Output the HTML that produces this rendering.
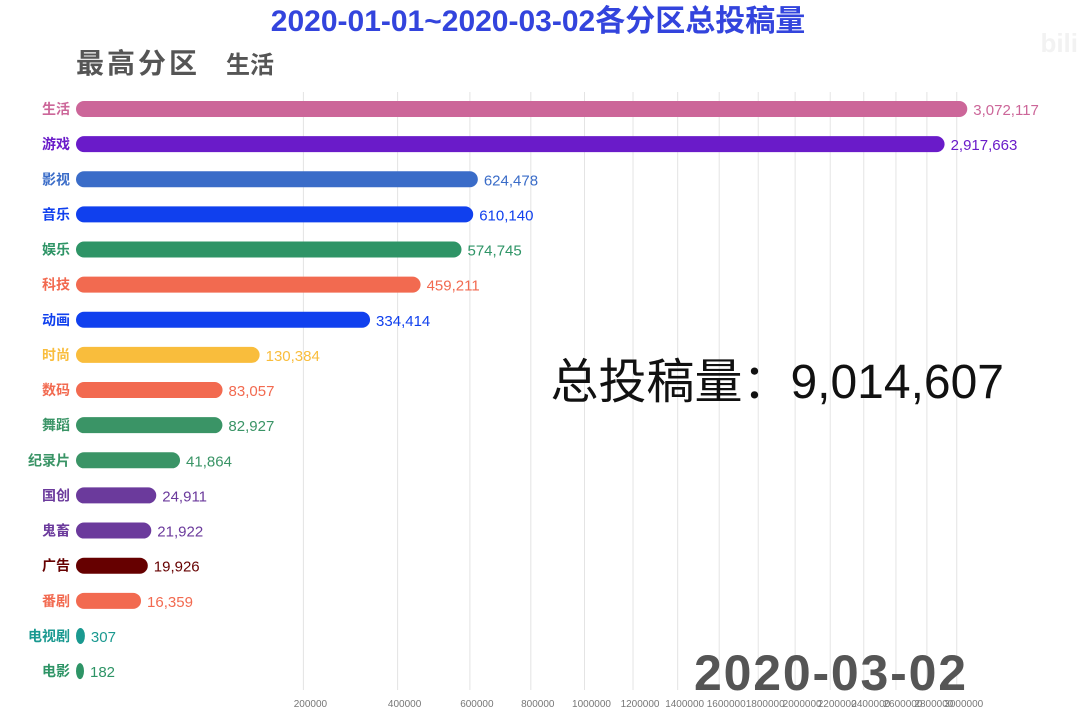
<!DOCTYPE html>
<html><head><meta charset="utf-8">
<style>
body{margin:0;width:1080px;height:720px;background:#fff;overflow:hidden;font-family:"Liberation Sans","Noto Sans CJK SC",sans-serif;}
svg text{font-family:"Liberation Sans","Noto Sans CJK SC",sans-serif;}
</style></head>
<body>
<svg id="chart" width="1080" height="720">
<text x="538" y="31" text-anchor="middle" font-size="30" font-weight="bold" fill="#3344dd">2020-01-01~2020-03-02各分区总投稿量</text>
<text x="76" y="73" font-size="28" font-weight="bold" fill="#555" letter-spacing="3">最高分区</text>
<text x="226" y="73" font-size="24" font-weight="bold" fill="#555">生活</text>
<text x="1078" y="52" text-anchor="end" font-size="26" font-weight="bold" fill="#f2f2f2">bili</text>
<g id="grid"></g>
<g id="bars"></g>
<text x="1004" y="398" text-anchor="end" font-size="48" fill="#111">总投稿量：9,014,607</text>
<text x="966" y="690" text-anchor="end" font-size="50" font-weight="bold" fill="#555" textLength="272">2020-03-02</text>
</svg>
<script>
const categories=["生活","游戏","影视","音乐","娱乐","科技","动画","时尚","数码","舞蹈","纪录片","国创","鬼畜","广告","番剧","电视剧","电影"];
const values=[3072117,2917663,624478,610140,574745,459211,334414,130384,83057,82927,41864,24911,21922,19926,16359,307,182];
const colors=["#cc6699","#6a1bc9","#3a6cc8","#1040ee","#2e9466","#f26a50","#1040ee","#f9bd3c","#f26a50","#3a9466","#3a9466","#6b3a9c","#6b3a9c","#660000","#f26a50","#1a9990","#2e9466"];
const ticks=[200000,400000,600000,800000,1000000,1200000,1400000,1600000,1800000,2000000,2200000,2400000,2600000,2800000,3000000];
const ns="http://www.w3.org/2000/svg";
const x0=76,k=0.5085;
function xs(v){return x0+k*Math.sqrt(v);}
function ys(i){return 109+i*35.13;}
const grid=document.getElementById('grid'),bars=document.getElementById('bars');
ticks.forEach(t=>{
 const l=document.createElementNS(ns,'line');
 
 
 l.setAttribute('x1',xs(t));l.setAttribute('x2',xs(t));l.setAttribute('y1',92);l.setAttribute('y2',690);
 l.setAttribute('stroke','#e4e4e4');l.setAttribute('stroke-width','1');grid.appendChild(l);
 const tx=document.createElementNS(ns,'text');
 
 
 tx.setAttribute('x',xs(t)+7);tx.setAttribute('y',707);tx.setAttribute('text-anchor','middle');
 tx.setAttribute('font-size','10');tx.setAttribute('fill','#777');tx.textContent=t;grid.appendChild(tx);
});
categories.forEach((c,i)=>{
 const y=ys(i),w=Math.max(xs(values[i])-x0,8);
 const r=document.createElementNS(ns,'rect');
 
 
 r.setAttribute('x',x0);r.setAttribute('y',y-8);r.setAttribute('width',w);r.setAttribute('height',16);
 r.setAttribute('rx',8);r.setAttribute('fill',colors[i]);bars.appendChild(r);
 const lb=document.createElementNS(ns,'text');
 
 
 lb.setAttribute('x',70);lb.setAttribute('y',y+5);lb.setAttribute('text-anchor','end');
 lb.setAttribute('font-size','14');lb.setAttribute('font-weight','bold');lb.setAttribute('fill',colors[i]);
 lb.textContent=c;bars.appendChild(lb);
 const vl=document.createElementNS(ns,'text');
 
 
 vl.setAttribute('x',x0+w+6);vl.setAttribute('y',y+6);
 vl.setAttribute('font-size','15');vl.setAttribute('fill',colors[i]);
 vl.textContent=values[i].toLocaleString('en-US');bars.appendChild(vl);
});
</script>
</body></html>
